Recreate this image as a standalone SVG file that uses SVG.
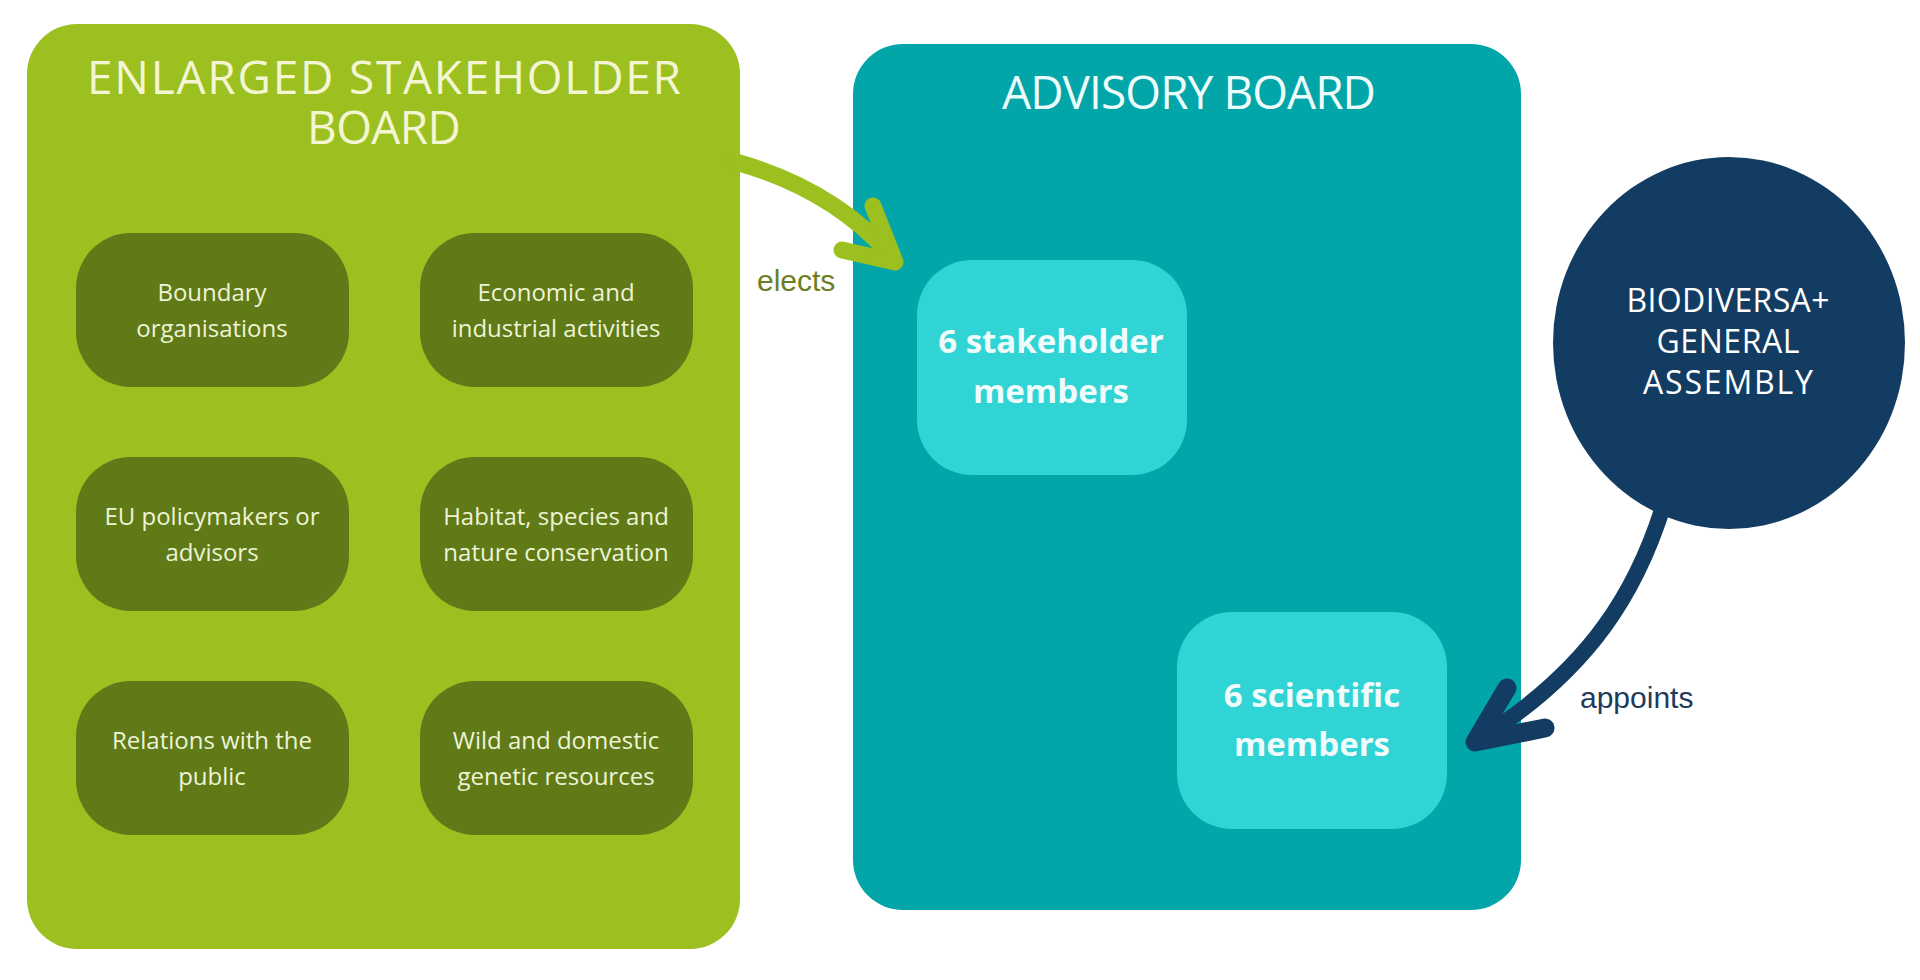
<svg xmlns="http://www.w3.org/2000/svg" width="1920" height="980" viewBox="0 0 1920 980">
<style>
.title{font-family:"Open Sans","Noto Sans",sans-serif;font-size:46px;text-anchor:middle}
.item rect{fill:#5f7a16}
.item text{font-family:"Open Sans","Noto Sans",sans-serif;font-size:24px;fill:#eef3d6;text-anchor:middle}
.member rect{fill:#30d4d4}
.member text{font-family:"Open Sans","Noto Sans",sans-serif;font-size:33px;font-weight:bold;fill:#f0fbfb;text-anchor:middle}
.lbl{font-family:"Liberation Sans",Arial,sans-serif;font-size:30px}
.conn path{fill:none;stroke-linecap:round;stroke-linejoin:round}
</style>
<rect width="1920" height="980" fill="#ffffff"/>
<g id="enlarged-stakeholder-board">
<rect x="27" y="24" width="713" height="925" rx="50" fill="#9bc020"/>
<text class="title" fill="#f3f5d3"><tspan x="384" y="94" textLength="594" lengthAdjust="spacing">ENLARGED STAKEHOLDER</tspan><tspan x="384" y="144" textLength="154" lengthAdjust="spacing">BOARD</tspan></text>
</g>
<g id="boundary" class="item"><rect x="76" y="233" width="273" height="154" rx="55"/><text x="212" y="301">Boundary</text><text x="212" y="337">organisations</text></g>
<g id="economic" class="item"><rect x="420" y="233" width="273" height="154" rx="55"/><text x="556" y="301">Economic and</text><text x="556" y="337">industrial activities</text></g>
<g id="eu-policymakers" class="item"><rect x="76" y="457" width="273" height="154" rx="55"/><text x="212" y="525">EU policymakers or</text><text x="212" y="561">advisors</text></g>
<g id="habitat" class="item"><rect x="420" y="457" width="273" height="154" rx="55"/><text x="556" y="525">Habitat, species and</text><text x="556" y="561">nature conservation</text></g>
<g id="relations" class="item"><rect x="76" y="681" width="273" height="154" rx="55"/><text x="212" y="749">Relations with the</text><text x="212" y="785">public</text></g>
<g id="wild-domestic" class="item"><rect x="420" y="681" width="273" height="154" rx="55"/><text x="556" y="749">Wild and domestic</text><text x="556" y="785">genetic resources</text></g>
<g id="advisory-board">
<rect x="853" y="44" width="668" height="866" rx="50" fill="#02a5a8"/>
<text class="title" x="1189" y="109" fill="#eefcfb" textLength="374" lengthAdjust="spacing">ADVISORY BOARD</text>
</g>
<g id="stakeholder-members" class="member"><rect x="917" y="260" width="270" height="215" rx="55"/><text x="1051" y="353">6 stakeholder</text><text x="1051" y="403">members</text></g>
<g id="scientific-members" class="member"><rect x="1177" y="612" width="270" height="217" rx="55"/><text x="1312" y="707">6 scientific</text><text x="1312" y="756">members</text></g>
<g id="general-assembly">
<ellipse cx="1729" cy="343" rx="176" ry="186" fill="#133c63"/>
<text class="title" style="font-size:32px" fill="#ffffff"><tspan x="1728" y="312" textLength="203" lengthAdjust="spacing">BIODIVERSA+</tspan><tspan x="1728" y="353" textLength="143" lengthAdjust="spacing">GENERAL</tspan><tspan x="1728" y="394" textLength="170" lengthAdjust="spacing">ASSEMBLY</tspan></text>
</g>
<g id="connectors" class="conn">
<path d="M 736 162 Q 835 190 893 258" stroke="#9bc020" stroke-width="17"/>
<path d="M 873 206 L 895 262 L 842 250" stroke="#9bc020" stroke-width="17"/>
<path d="M 1668 490 C 1640 590 1590 670 1478 740" stroke="#133c63" stroke-width="16"/>
<path d="M 1507 688 L 1475 742 L 1545 728" stroke="#133c63" stroke-width="19"/>
<text class="lbl" x="757" y="291" fill="#6b7f22">elects</text>
<text class="lbl" x="1580" y="708" fill="#1e3b5b">appoints</text>
</g>
</svg>
